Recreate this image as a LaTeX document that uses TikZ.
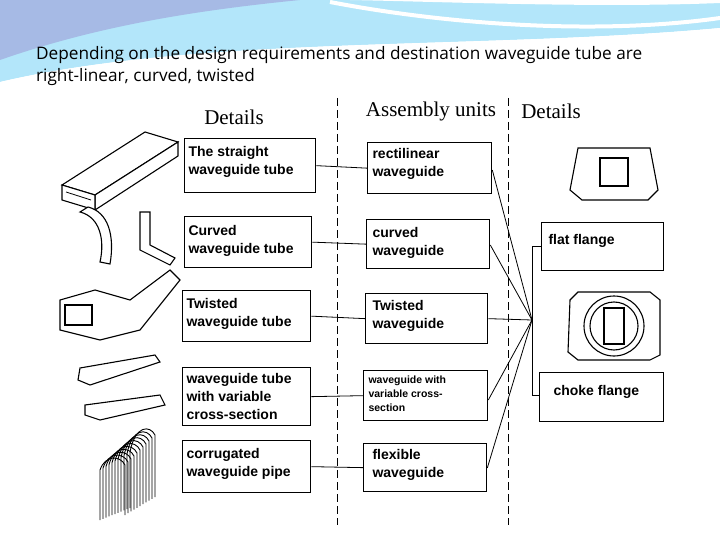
\documentclass[tikz,border=0pt]{standalone}
\usepackage{fontspec}
\setmainfont{Liberation Serif}
\newfontfamily\boxfont{Liberation Sans}
\newfontfamily\capfont{Open Sans}
\begin{document}
\begin{tikzpicture}[x=1pt,y=-1pt,
  bx/.style={draw,line width=1.3pt,anchor=north west,inner sep=0pt},
  bt/.style={font=\boxfont\bfseries\fontsize{14}{18}\selectfont,align=left,anchor=north west},
  con/.style={line width=0.8pt},
  dsh/.style={dashed,line width=0.9pt,dash pattern=on 8pt off 4pt},
  hd/.style={font=\fontsize{21}{22}\selectfont},
  pic/.style={draw,line width=1.1pt,fill=white}]
\useasboundingbox (0,0) rectangle (720,540);
\fill[white] (0,0) rectangle (720,540);
% background swoosh
\fill[cyan!30] (0,0) -- (720,0) -- (720,28) .. controls (480,50) and (200,35) .. (0,82) -- cycle;
\fill[cyan!45!blue!35] (0,0) -- (300,0) .. controls (200,10) and (100,25) .. (0,60) -- cycle;
\fill[white] (0,0) -- (720,0) -- (720,3) .. controls (600,8) and (450,2) .. (350,0) -- cycle;
\draw[white,line width=4pt] (330,2) .. controls (450,25) and (600,35) .. (720,18);
\fill[white] (0,82) .. controls (200,35) and (480,50) .. (720,28) -- (720,45) -- (0,92) -- cycle;
\node[font=\capfont\fontsize{17.2}{22}\selectfont,align=left,anchor=north west,inner sep=0pt] (cap) at (36,46)
 {Depending on the design requirements and destination waveguide tube are\\right-linear, curved, twisted};
% headers
\node[hd] (h1) at (234,117) {Details};
\node[hd] (h2) at (431,111) {Assembly units};
\node[hd] (h3) at (551,111) {Details};
\coordinate (d1t) at (337,98); \coordinate (d1b) at (337,525);
\coordinate (d2t) at (508,98); \coordinate (d2b) at (508,525);
\draw[dsh] (d1t) -- (d1b);
\draw[dsh] (d2t) -- (d2b);
% left boxes
\node[bx,minimum width=131pt,minimum height=54pt] (L1) at (184,138) {};
\node[bx,minimum width=127pt,minimum height=51pt] (L2) at (184,216) {};
\node[bx,minimum width=128pt,minimum height=51pt] (L3) at (182,290) {};
\node[bx,minimum width=128pt,minimum height=58pt] (L4) at (182,367) {};
\node[bx,minimum width=128pt,minimum height=52pt] (L5) at (182,440) {};
\node[bt] (tl1) at (185,143) {The straight\\waveguide tube};
\node[bt] (tl2) at (185,222) {Curved\\waveguide tube};
\node[bt] (tl3) at (183,295) {Twisted\\waveguide tube};
\node[bt] (tl4) at (183,370) {waveguide tube\\with variable\\cross-section};
\node[bt] (tl5) at (183,445) {corrugated\\waveguide pipe};
% middle boxes
\node[bx,minimum width=124pt,minimum height=51pt] (M1) at (367,142) {};
\node[bx,minimum width=123pt,minimum height=49pt] (M2) at (366,219) {};
\node[bx,minimum width=122pt,minimum height=50pt] (M3) at (365,293) {};
\node[bx,minimum width=124pt,minimum height=50pt] (M4) at (363,370) {};
\node[bx,minimum width=123pt,minimum height=48pt] (M5) at (363,443) {};
\node[bt] (tm1) at (369,145) {rectilinear\\waveguide};
\node[bt] (tm2) at (369,224) {curved\\waveguide};
\node[bt] (tm3) at (369,297) {Twisted\\waveguide};
\node[bt,font=\boxfont\bfseries\fontsize{10.5}{14}\selectfont] (tm4) at (365,372) {waveguide with\\variable cross-\\section};
\node[bt] (tm5) at (369,446) {flexible\\waveguide};
% right boxes
\node[bx,minimum width=122pt,minimum height=48pt] (R1) at (541,222) {};
\node[bx,minimum width=124pt,minimum height=49pt] (R2) at (539,372) {};
\node[bt] (tr1) at (545,231) {flat flange};
\node[bt] (tr2) at (550,382) {choke flange};
% connectors
\foreach \i in {1,...,5}{\draw[con] (L\i.east) -- (M\i.west);}
\coordinate (hub) at (532,320);
\draw[con] (M1.east |- 0,170) -- (hub);
\draw[con] (M2.east |- 0,245) -- (hub);
\draw[con] (M3.east) -- (hub);
\draw[con] (M4.east |- 0,400) -- (hub);
\draw[con] (M5.east |- 0,468) -- (hub);
\coordinate (ft) at (532,246); \coordinate (fb) at (532,395);
\draw[con] (R1.west |- ft) -- (ft) -- (fb) -- (R2.west |- fb);
% illustrations: straight tube
\draw[pic] (62,185) -- (145,132) -- (178,142) -- (95,195) -- cycle;
\draw[pic] (95,195) -- (178,142) -- (178,156) -- (95,210) -- cycle;
\draw[pic] (62,185) -- (95,195) -- (95,210) -- (62,200) -- cycle;
\draw[line width=0.8pt] (66,192) -- (91,200);
% curved
\draw[pic] (80,212) .. controls (100,217) and (105,240) .. (100,262) -- (110,264) .. controls (115,235) and (108,212) .. (88,207) -- cycle;
\draw[pic] (140,212) -- (150,212) -- (150,245) -- (175,258) -- (170,265) -- (140,250) -- cycle;
% twisted
\draw[pic] (60,300) -- (95,290) -- (130,300) -- (170,270) -- (180,280) -- (140,330) -- (100,340) -- (60,330) -- cycle;
\draw[pic] (65,305) rectangle (92,325);
% variable
\draw[pic] (80,368) -- (155,355) -- (160,362) -- (90,385) -- (78,380) -- cycle;
\draw[pic] (85,405) -- (160,395) -- (165,405) -- (100,420) -- (85,415) -- cycle;
% corrugated
\foreach \k in {0,3,...,30}{\draw[line width=0.9pt] (100+\k,520-\k*0.4) -- (100+\k,470-\k*0.6) .. controls (105+\k,455-\k) and (120+\k,455-\k) .. (125+\k,465-\k) -- (125+\k,515-\k*0.6);}
% flanges
\draw[pic] (570,190) -- (578,148) -- (650,148) -- (658,190) -- (648,200) -- (582,200) -- cycle;
\draw[pic] (600,158) rectangle (628,186);
\draw[pic] (570,300) -- (578,292) -- (650,292) -- (660,300) -- (660,355) -- (650,360) -- (578,360) -- (568,352) -- cycle;
\draw[pic] (614,326) circle (30pt);
\draw[pic] (614,326) circle (24pt);
\draw[pic] (604,308) rectangle (624,344);
\end{tikzpicture}
\end{document}
